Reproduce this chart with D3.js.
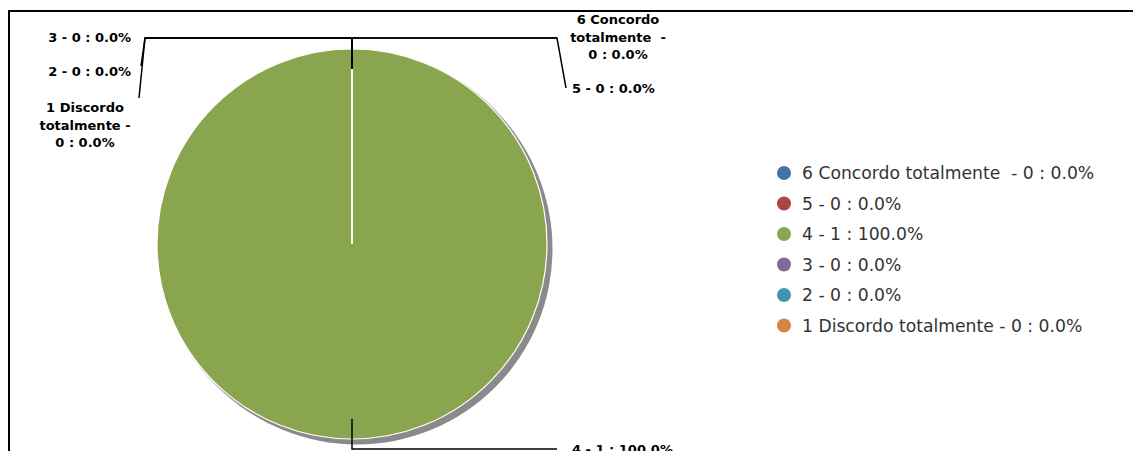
<!DOCTYPE html>
<html><head><meta charset="utf-8">
<script src="https://cdn.jsdelivr.net/npm/d3@7/dist/d3.min.js"></script>
<style>body{margin:0;background:#fff}svg{display:block}</style>
</head><body>
<svg id="c" width="1133" height="451"></svg>
<script>
const categories = ["6 Concordo totalmente ", "5", "4", "3", "2", "1 Discordo totalmente"];
const counts = [0, 0, 1, 0, 0, 0];
const colors = ["#4572A7", "#AA4643", "#89A54E", "#80699B", "#3D96AE", "#DB843D"];
// data-label text lines (wrapped as in the picture)
const labelLines = [
  ["6 Concordo", "totalmente  -", "0 : 0.0%"],
  ["5 - 0 : 0.0%"],
  ["4 - 1 : 100.0%"],
  ["3 - 0 : 0.0%"],
  ["2 - 0 : 0.0%"],
  ["1 Discordo", "totalmente -", "0 : 0.0%"]
];

const total = d3.sum(counts);
const pct = v => (total ? v / total * 100 : 0).toFixed(1) + "%";
const legendText = categories.map((c, i) => c + " - " + counts[i] + " : " + pct(counts[i]));

const svg = d3.select("#c");
const W = 1133, H = 451;

// frame
svg.append("path").attr("d", `M9,${H} L9,11 L${W + 2},11`)
  .attr("fill", "none").attr("stroke", "#000").attr("stroke-width", 2);

const cx = 352, cy = 244, R = 195;
const g = svg.append("g").attr("transform", `translate(${cx},${cy})`);

const pie = d3.pie().sort(null).value(d => d)(counts);
const arc = d3.arc().innerRadius(0).outerRadius(R);

// shadow
g.append("circle").attr("cx", 3).attr("cy", 3).attr("r", R + 1.5).attr("fill", "#c8c8c8");
g.append("circle").attr("cx", 5).attr("cy", 5).attr("r", R + 0.5).attr("fill", "#8a8a8a");

g.selectAll("path.slice").data(pie).join("path")
  .attr("class", "slice")
  .attr("d", arc)
  .attr("fill", (d, i) => colors[i])
  .attr("stroke", "#fff").attr("stroke-width", 1.2);

// slice boundary (white radial line at start angles)
pie.filter(d => d.value > 0).forEach(d => {
  const a = d.startAngle;
  g.append("line").attr("x1", 0).attr("y1", 0)
    .attr("x2", R * Math.sin(a)).attr("y2", -R * Math.cos(a))
    .attr("stroke", "#fff").attr("stroke-width", 2);
});

// connectors and labels, laid out relative to the pie
const inner = R - 20, lineY = -R - 11;
const layout = [
  { pts: [[0, -inner], [0, lineY], [205, lineY]], anchor: "middle", tx: 266, ty: -220 },
  { pts: [[0, -inner], [0, lineY], [205, lineY], [214, -156]], anchor: "start", tx: 220, ty: -151 },
  { pts: [[0, inner], [0, R + 10], [205, R + 10]], anchor: "start", tx: 220, ty: R + 15 },
  { pts: [[0, -inner], [0, lineY], [-207, lineY]], anchor: "end", tx: -221, ty: -202 },
  { pts: [[0, -inner], [0, lineY], [-207, lineY], [-211, -178]], anchor: "end", tx: -221, ty: -168 },
  { pts: [[0, -inner], [0, lineY], [-207, lineY], [-213, -146]], anchor: "middle", tx: -267, ty: -132 }
];
const line = d3.line();
layout.forEach(L => {
  g.append("path").attr("d", line(L.pts)).attr("fill", "none")
    .attr("stroke", "#000").attr("stroke-width", 1.5);
});
layout.forEach((L, i) => {
  const t = g.append("text").attr("text-anchor", L.anchor)
    .attr("font-family", "DejaVu Sans").attr("font-weight", "bold")
    .attr("font-size", 13).attr("fill", "#000");
  labelLines[i].forEach((s, k) => {
    t.append("tspan").attr("x", L.tx).attr("y", L.ty + k * 17.5).attr("xml:space", "preserve").text(s);
  });
});

// legend
const lg = svg.append("g").attr("transform", "translate(784,173)");
const items = lg.selectAll("g").data(categories).join("g")
  .attr("transform", (d, i) => `translate(0,${i * 30.5})`);
items.append("circle").attr("r", 7).attr("fill", (d, i) => colors[i]);
items.append("text").attr("x", 18).attr("y", 6)
  .attr("font-family", "DejaVu Sans").attr("font-size", 17.2).attr("fill", "#333")
  .attr("xml:space", "preserve")
  .text((d, i) => legendText[i]);
</script>
</body></html>
